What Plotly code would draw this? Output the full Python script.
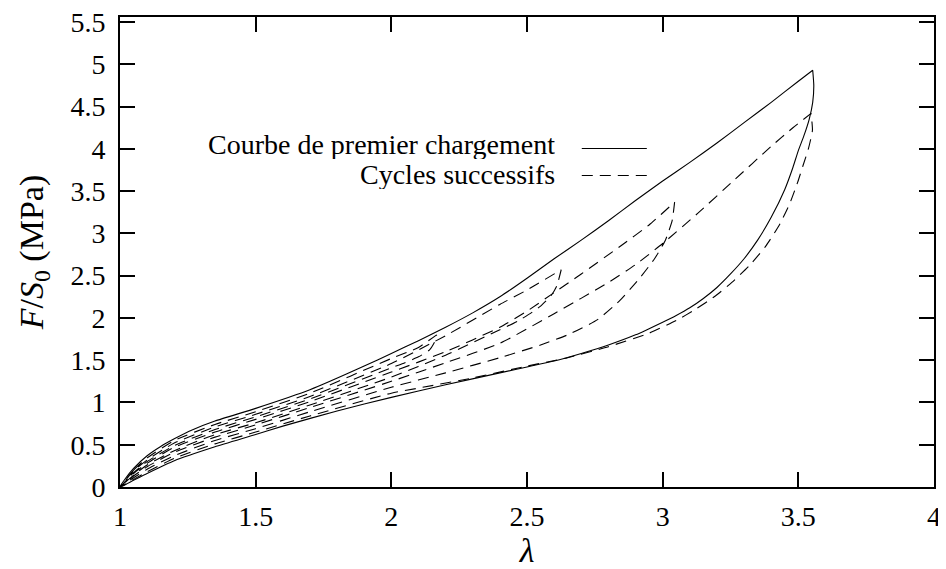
import plotly.graph_objects as go

# first loading / unloading (solid)
lam_load = [1.0, 1.02, 1.05, 1.1, 1.15, 1.2, 1.27, 1.35, 1.5, 1.7, 1.9, 2.0, 2.1, 2.2, 2.3, 2.4, 2.5,
            2.6, 2.7, 2.8, 2.9, 3.0, 3.1, 3.2, 3.3, 3.4, 3.5, 3.553]
sig_load = [0, 0.10, 0.22, 0.37, 0.48, 0.57, 0.68, 0.78, 0.93, 1.15, 1.43, 1.58, 1.73, 1.89, 2.06, 2.25, 2.47,
            2.70, 2.92, 3.15, 3.39, 3.62, 3.84, 4.07, 4.31, 4.55, 4.80, 4.93]
lam_unload = [3.553, 3.557, 3.553, 3.54, 3.52, 3.50, 3.48, 3.45, 3.40, 3.35, 3.30, 3.25, 3.20, 3.15,
              3.10, 3.05, 3.0, 2.9, 2.8, 2.7, 2.6, 2.5, 2.4, 2.2, 2.0, 1.8, 1.6, 1.5, 1.35, 1.2, 1.1,
              1.05, 1.0]
sig_unload = [4.93, 4.75, 4.55, 4.35, 4.15, 3.98, 3.78, 3.52, 3.19, 2.92, 2.70, 2.52, 2.36, 2.23,
              2.12, 2.03, 1.95, 1.80, 1.68, 1.58, 1.49, 1.42, 1.35, 1.21, 1.06, 0.90, 0.72, 0.62, 0.475,
              0.31, 0.16, 0.08, 0]

# successive cycles (dashed)
lam_c1_load = [1.0, 1.05, 1.1, 1.2, 1.35, 1.5, 1.7, 2.0, 2.1, 2.167]
sig_c1_load = [0, 0.20, 0.345, 0.55, 0.74, 0.89, 1.11, 1.52, 1.65, 1.80]
lam_c1_unload = [2.167, 2.16, 2.14, 2.10, 2.05, 2.0, 1.7, 1.5, 1.35, 1.2, 1.1, 1.05, 1.0]
sig_c1_unload = [1.80, 1.72, 1.62, 1.54, 1.47, 1.41, 1.04, 0.83, 0.68, 0.49, 0.30, 0.17, 0]

lam_c2_load = [1.0, 1.05, 1.1, 1.2, 1.35, 1.5, 1.7, 2.0, 2.2, 2.4, 2.5, 2.626]
sig_c2_load = [0, 0.19, 0.32, 0.52, 0.71, 0.86, 1.07, 1.46, 1.79, 2.16, 2.33, 2.57]
lam_c2_unload = [2.626, 2.61, 2.59, 2.55, 2.52, 2.47, 2.4, 2.2, 2.0, 1.7, 1.5, 1.35, 1.2, 1.1, 1.05, 1.0]
sig_c2_unload = [2.57, 2.38, 2.27, 2.14, 2.07, 1.97, 1.86, 1.56, 1.30, 0.97, 0.76, 0.62, 0.43, 0.26, 0.14, 0]

lam_c3_load = [1.0, 1.05, 1.1, 1.2, 1.35, 1.5, 1.7, 2.0, 2.2, 2.4, 2.5, 2.6, 2.7, 2.84, 2.95, 3.044]
sig_c3_load = [0, 0.16, 0.28, 0.47, 0.65, 0.80, 1.01, 1.36, 1.60, 1.89, 2.08, 2.30, 2.52, 2.84, 3.10, 3.37]
lam_c3_unload = [3.044, 3.035, 3.01, 2.97, 2.91, 2.84, 2.76, 2.65, 2.55, 2.4, 2.2, 2.0, 1.7, 1.5,
                 1.35, 1.2, 1.1, 1.05, 1.0]
sig_c3_unload = [3.37, 3.15, 2.92, 2.70, 2.45, 2.20, 1.98, 1.80, 1.68, 1.53, 1.35, 1.18, 0.89, 0.69,
                 0.55, 0.37, 0.21, 0.11, 0]

lam_c4_load = [1.0, 1.05, 1.1, 1.2, 1.35, 1.5, 1.7, 2.0, 2.2, 2.4, 2.6, 2.8, 2.9, 3.0, 3.13, 3.26,
               3.40, 3.48, 3.547]
sig_c4_load = [0, 0.13, 0.24, 0.41, 0.59, 0.735, 0.94, 1.25, 1.47, 1.70, 2.05, 2.42, 2.63, 2.88, 3.24, 3.62,
               4.03, 4.25, 4.42]
lam_c4_unload = [3.547, 3.552, 3.537, 3.517, 3.497, 3.468, 3.43, 3.38, 3.32, 3.255, 3.19, 3.12, 3.05,
                 2.95, 2.8, 2.65, 2.5, 2.3, 2.1, 2.0, 1.7, 1.5, 1.35, 1.2, 1.1, 1.05, 1.0]
sig_c4_unload = [4.42, 4.22, 4.00, 3.80, 3.60, 3.35, 3.10, 2.85, 2.62, 2.42, 2.25, 2.10, 1.97,
                 1.82, 1.66, 1.53, 1.43, 1.29, 1.17, 1.11, 0.84, 0.65, 0.51, 0.34, 0.18, 0.09, 0]

x_ticks = [1, 1.5, 2, 2.5, 3, 3.5, 4]
x_labels = ["1", "1.5", "2", "2.5", "3", "3.5", "4"]
y_ticks = [0, 0.5, 1, 1.5, 2, 2.5, 3, 3.5, 4, 4.5, 5, 5.5]
y_labels = ["0", "0.5", "1", "1.5", "2", "2.5", "3", "3.5", "4", "4.5", "5", "5.5"]

FONT = "Liberation Serif"
DASH = "11px,7px"

lam_cycles = (lam_c1_load + lam_c1_unload + lam_c2_load + lam_c2_unload
              + lam_c3_load + lam_c3_unload + lam_c4_load + lam_c4_unload)
sig_cycles = (sig_c1_load + sig_c1_unload + sig_c2_load + sig_c2_unload
              + sig_c3_load + sig_c3_unload + sig_c4_load + sig_c4_unload)

fig = go.Figure()
fig.add_trace(go.Scatter(x=lam_load + lam_unload, y=sig_load + sig_unload, mode="lines",
                         line=dict(color="black", width=1.1, shape="spline", smoothing=0.5),
                         showlegend=False))
fig.add_trace(go.Scatter(x=lam_cycles, y=sig_cycles, mode="lines",
                         line=dict(color="black", width=1.1, dash=DASH, shape="spline", smoothing=0.5),
                         showlegend=False))

# gnuplot-style key: text on the left, line sample on the right
for txt, yt, yl, dash in [("Courbe de premier chargement", 0.730, 0.7202, "solid"),
                          ("Cycles successifs", 0.666, 0.6628, DASH)]:
    fig.add_annotation(x=0.5366, y=yt, xref="paper", yref="paper", text=txt, showarrow=False,
                       xanchor="right", yanchor="middle", height=30,
                       font=dict(family=FONT, size=28, color="black"))
    fig.add_shape(type="line", xref="paper", yref="paper", x0=0.5673, x1=0.6472,
                  y0=yl, y1=yl, line=dict(color="black", width=1.1, dash=dash))

axis_common = dict(showline=True, linecolor="black", linewidth=2, mirror="ticks", ticks="inside",
                   ticklen=15, tickwidth=2, tickcolor="black", showgrid=False, zeroline=False,
                   automargin=False, ticklabeloverflow="allow",
                   tickfont=dict(family=FONT, size=28, color="black"))

# page body has an 8px margin, so the figure is 8px smaller than the window
fig.update_layout(
    width=938, height=561,
    margin=dict(l=112, r=12, t=9, b=82),
    paper_bgcolor="white", plot_bgcolor="white",
    font=dict(family=FONT, size=28, color="black"),
    xaxis=dict(range=[1, 4], tickvals=x_ticks, ticktext=x_labels, ticklabelstandoff=3,
               title=dict(text="<i>λ</i>", standoff=2), **axis_common),
    yaxis=dict(range=[0, 5.56], tickvals=y_ticks, ticktext=y_labels, ticklabelstandoff=7,
               title=dict(text="<i>F</i>/<i>S</i><sub>0</sub> (MPa)", standoff=17), **axis_common),
)

fig.write_html("out.html")
